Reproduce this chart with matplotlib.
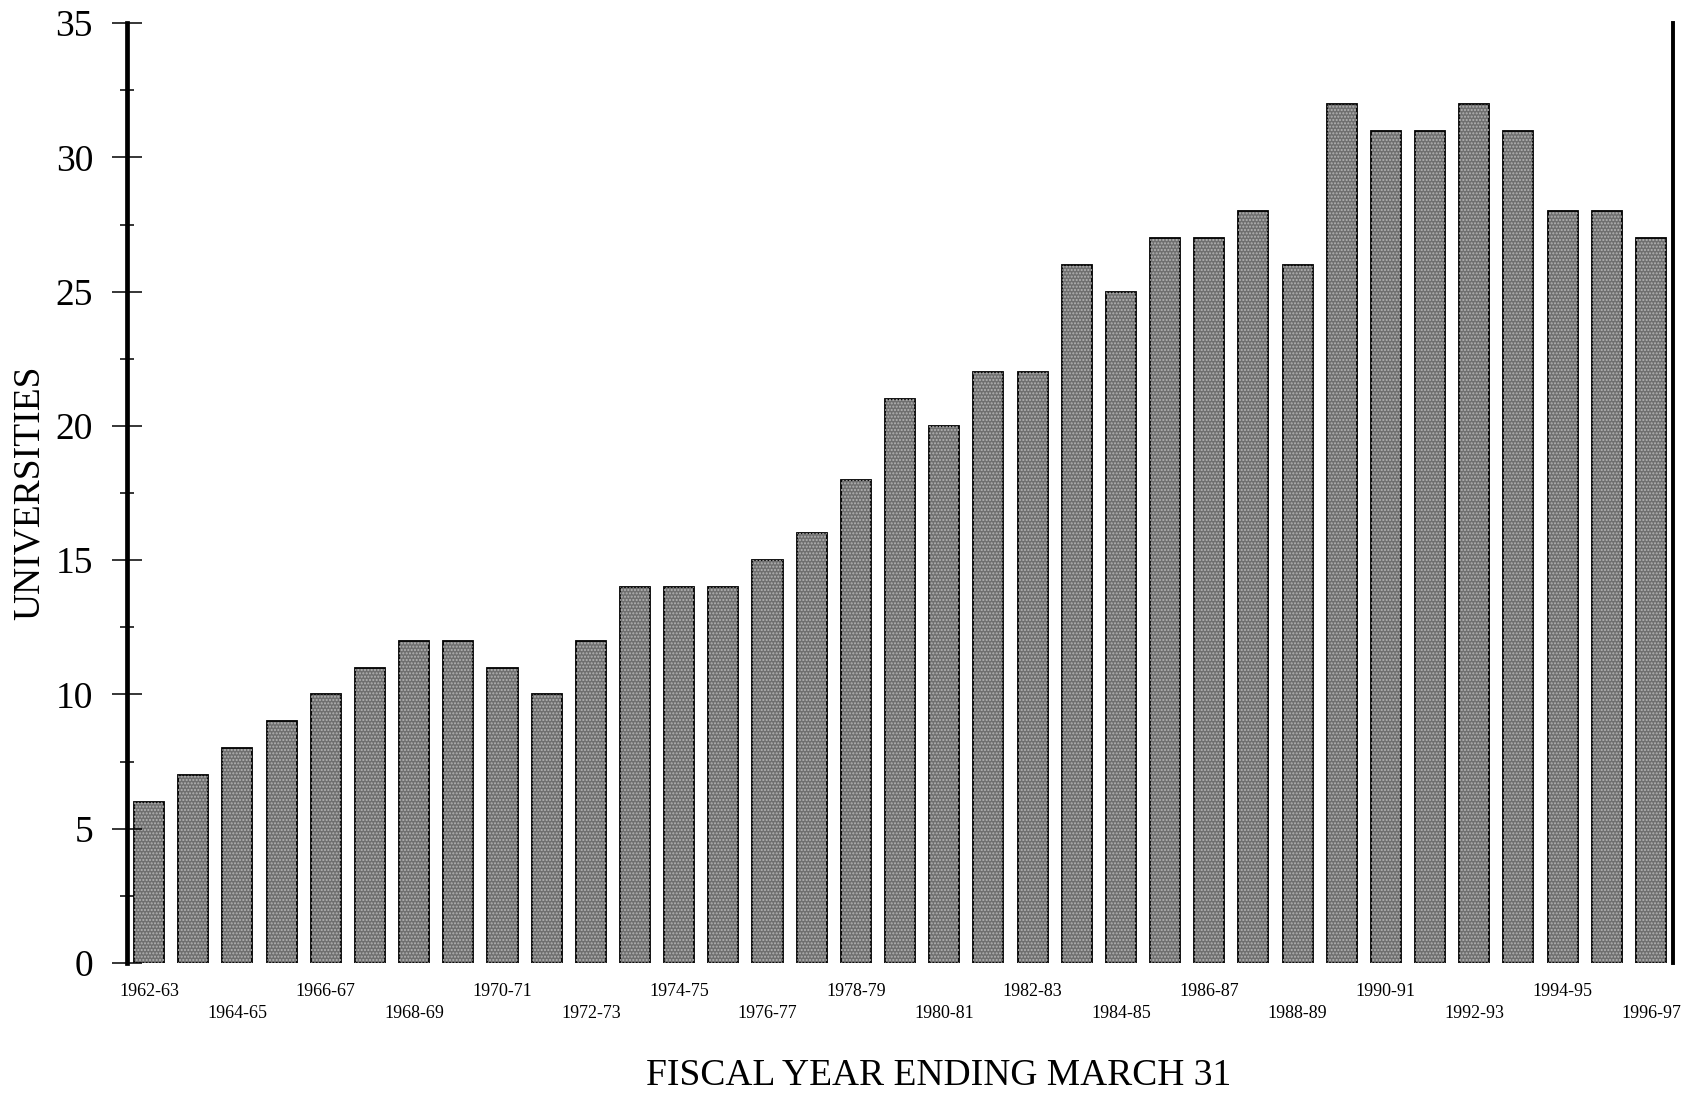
import matplotlib
matplotlib.use("Agg")
import matplotlib.pyplot as plt

# universities per fiscal year (ending March 31)
fiscal_years = ["1962-63", "1963-64", "1964-65", "1965-66", "1966-67", "1967-68",
                "1968-69", "1969-70", "1970-71", "1971-72", "1972-73", "1973-74",
                "1974-75", "1975-76", "1976-77", "1977-78", "1978-79", "1979-80",
                "1980-81", "1981-82", "1982-83", "1983-84", "1984-85", "1985-86",
                "1986-87", "1987-88", "1988-89", "1989-90", "1990-91", "1991-92",
                "1992-93", "1993-94", "1994-95", "1995-96", "1996-97"]
universities = [6, 7, 8, 9, 10, 11, 12, 12, 11, 10, 12, 14, 14, 14, 15, 16, 18, 21,
                20, 22, 22, 26, 25, 27, 27, 28, 26, 32, 31, 31, 32, 31, 28, 28, 27]

plt.rcParams['font.family'] = ['Liberation Serif', 'DejaVu Serif']

fig = plt.figure(figsize=(16.94, 10.94), dpi=100)
ax = fig.add_axes([0.0750, 0.1197, 0.9126, 0.8592])

x = list(range(len(universities)))
# grey bars with a light dotted texture on top
ax.bar(x, universities, width=0.68, color='#6f6f6f', edgecolor='black', linewidth=1.3)
ax.bar(x, universities, width=0.68, color='none', edgecolor='#b4b4b4',
       linewidth=0, hatch='.....')

ax.set_xlim(-0.5, len(universities) - 0.5)
ax.set_ylim(0, 35)

ax.spines['top'].set_visible(False)
ax.spines['bottom'].set_visible(False)
ax.spines['left'].set_linewidth(3.4)
ax.spines['right'].set_linewidth(2.8)

ax.set_yticks(range(0, 36, 5))
ax.set_yticks([2.5 + 5 * i for i in range(7)], minor=True)
ax.tick_params(axis='y', which='major', direction='inout', length=21, width=1.1,
               pad=14, labelsize=27)
ax.tick_params(axis='y', which='minor', direction='inout', length=10, width=1.1)
ax.tick_params(axis='y', right=False)

# alternating label rows
top_idx = x[0::4]
low_idx = x[2::4]
ax.set_xticks(top_idx, [fiscal_years[i] for i in top_idx])
ax.set_xticks(low_idx, [fiscal_years[i] for i in low_idx], minor=True)
ax.tick_params(axis='x', which='major', length=0, pad=14.5, labelsize=13)
ax.tick_params(axis='x', which='minor', length=0, pad=30.5, labelsize=13)

ax.set_ylabel("UNIVERSITIES", fontsize=27)
ax.yaxis.set_label_coords(-0.052, 0.5)
ax.set_xlabel("FISCAL YEAR ENDING MARCH 31", fontsize=27)
ax.xaxis.set_label_coords(0.525, -0.102)

fig.savefig("out.png", dpi=100)
